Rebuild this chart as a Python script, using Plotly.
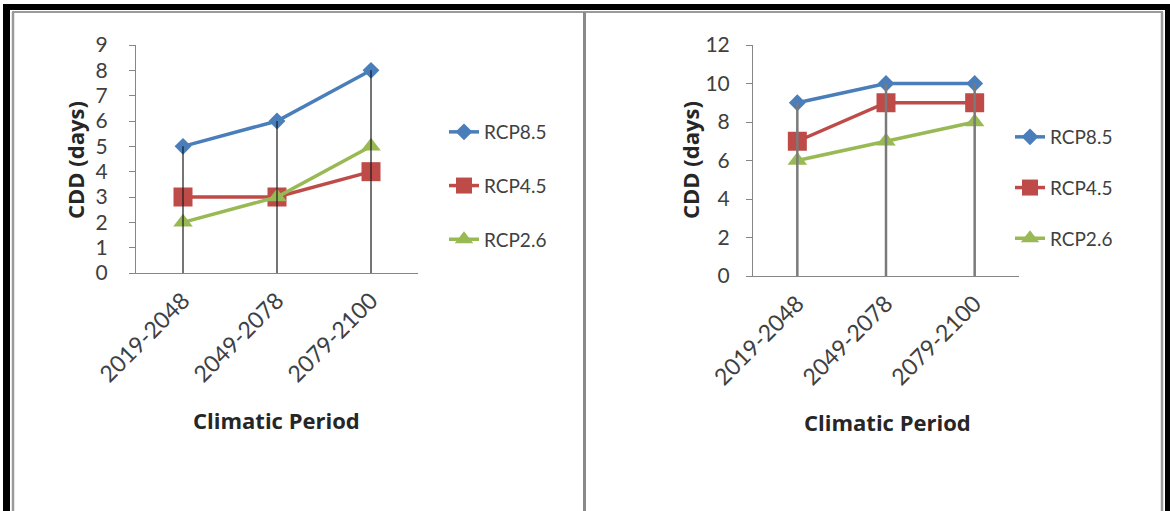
import plotly.graph_objects as go

W, H = 1170, 511

periods = ["2019-2048", "2049-2078", "2079-2100"]
series_names = ["RCP8.5", "RCP4.5", "RCP2.6"]

left_rcp85 = [5, 6, 8]
left_rcp45 = [3, 3, 4]
left_rcp26 = [2, 3, 5]

right_rcp85 = [9, 10, 10]
right_rcp45 = [7, 9, 9]
right_rcp26 = [6, 7, 8]

left_yticks = [0, 1, 2, 3, 4, 5, 6, 7, 8, 9]
right_yticks = [0, 2, 4, 6, 8, 10, 12]

colors = ["#4A7EBB", "#BE4B48", "#98B954"]
symbols = ["diamond", "square", "triangle-up"]
msizes = [13, 19, 17]

FONT = "Lato"
TITLE_FONT = "Open Sans"

def px_x(x):
    return x / W

def px_y(y):
    return 1 - y / H

fig = go.Figure()

panels = [
    dict(data=[left_rcp85, left_rcp45, left_rcp26], xa="x", ya="y", legend="legend",
         drop_color="#1a1a1a", drop_w=1.2, grp="L"),
    dict(data=[right_rcp85, right_rcp45, right_rcp26], xa="x2", ya="y2", legend="legend2",
         drop_color="#7a7a7a", drop_w=2.5, grp="R"),
]

for p in panels:
    for i, (name, vals) in enumerate(zip(series_names, p["data"])):
        fig.add_trace(go.Scatter(
            x=periods, y=vals, name=name, mode="lines+markers",
            line=dict(color=colors[i], width=3.5),
            marker=dict(symbol=symbols[i], size=msizes[i], color=colors[i]),
            xaxis=p["xa"], yaxis=p["ya"], legend=p["legend"],
            legendgroup=p["grp"] + name,
        ))
    # drop lines from the highest series down to zero
    top = [max(v) for v in zip(*p["data"])]
    dx, dy = [], []
    for c, t in zip(periods, top):
        dx += [c, c, None]
        dy += [t, 0, None]
    fig.add_trace(go.Scatter(
        x=dx, y=dy, mode="lines", line=dict(color=p["drop_color"], width=p["drop_w"]),
        showlegend=False, hoverinfo="skip", xaxis=p["xa"], yaxis=p["ya"],
    ))

axis_common = dict(
    showgrid=False, zeroline=False, showline=True, linecolor="#868686", linewidth=1,
    automargin=False,
)
ytick_font = dict(family=FONT, size=21, color="#404040")
xtick_font = dict(family=FONT, size=23, color="#404040")

fig.update_layout(
    width=W, height=H,
    margin=dict(l=0, r=0, t=0, b=0, autoexpand=False),
    paper_bgcolor="white", plot_bgcolor="white",
    xaxis=dict(domain=[px_x(136), px_x(418)], anchor="y", type="category",
               range=[-0.5, 2.5], tickangle=-45, ticks="", ticklabelstandoff=4,
               tickfont=xtick_font, **axis_common),
    yaxis=dict(domain=[px_y(273), px_y(45)], anchor="x", range=[0, 9],
               tickvals=left_yticks, ticks="outside", ticklen=6, tickcolor="#868686",
               ticklabelstandoff=17, tickfont=ytick_font, **axis_common),
    xaxis2=dict(domain=[px_x(753), px_x(1019)], anchor="y2", type="category",
                range=[-0.5, 2.5], tickangle=-45, ticks="", ticklabelstandoff=4,
                tickfont=xtick_font, **axis_common),
    yaxis2=dict(domain=[px_y(276), px_y(45)], anchor="x2", range=[0, 12],
                tickvals=right_yticks, ticks="outside", ticklen=6, tickcolor="#868686",
                ticklabelstandoff=12, tickfont=ytick_font, **axis_common),
    legend=dict(x=px_x(444), y=px_y(113), xanchor="left", yanchor="top",
                bgcolor="rgba(0,0,0,0)", tracegroupgap=26,
                font=dict(family=FONT, size=19, color="#404040")),
    legend2=dict(x=px_x(1010), y=px_y(118), xanchor="left", yanchor="top",
                 bgcolor="rgba(0,0,0,0)", tracegroupgap=23,
                 font=dict(family=FONT, size=19, color="#404040")),
    showlegend=True,
)

# axis titles
ann_font = dict(family=TITLE_FONT, size=22, color="#262626")
for ax, ay, txt, ang in [(75, 160, "<b>CDD (days)</b>", -90),
                         (690, 160, "<b>CDD (days)</b>", -90),
                         (276, 420, "<b>Climatic Period</b>", 0),
                         (887, 422, "<b>Climatic Period</b>", 0)]:
    fig.add_annotation(text=txt, x=px_x(ax), y=px_y(ay), xref="paper", yref="paper",
                       xanchor="center", yanchor="middle", textangle=ang,
                       showarrow=False, font=ann_font)

# frame: black outer border and grey inner borders
shapes = [
    dict(type="rect", x0=px_x(3), x1=px_x(W), y0=px_y(10), y1=px_y(4), fillcolor="black", line_width=0),
    dict(type="rect", x0=px_x(3), x1=px_x(10), y0=0, y1=px_y(4), fillcolor="black", line_width=0),
    dict(type="rect", x0=px_x(1165), x1=1, y0=0, y1=px_y(4), fillcolor="black", line_width=0),
    dict(type="line", x0=px_x(12), x1=px_x(1163), y0=px_y(12), y1=px_y(12), line=dict(color="#9a9a9a", width=2)),
    dict(type="line", x0=px_x(13), x1=px_x(13), y0=0, y1=px_y(12), line=dict(color="#9a9a9a", width=2.5)),
    dict(type="line", x0=px_x(1162), x1=px_x(1162), y0=0, y1=px_y(12), line=dict(color="#9a9a9a", width=2.5)),
    dict(type="line", x0=px_x(584.5), x1=px_x(584.5), y0=0, y1=px_y(12), line=dict(color="#8a8a8a", width=3)),
]
for s in shapes:
    s.update(xref="paper", yref="paper", layer="above")
fig.update_layout(shapes=shapes)

fig.write_html("out.html")
